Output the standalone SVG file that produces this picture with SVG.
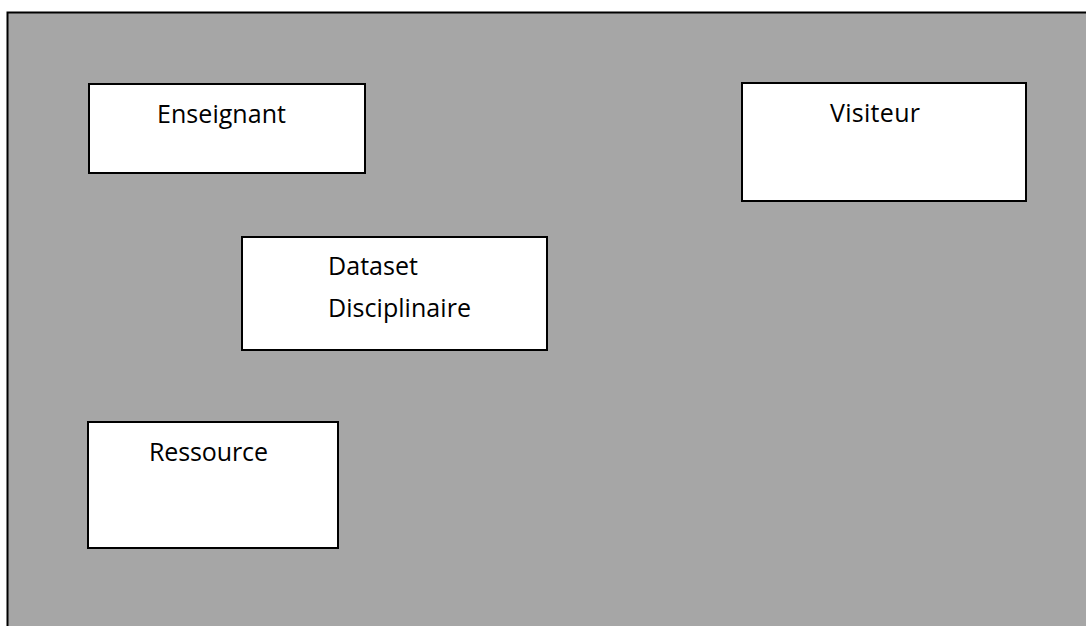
<svg xmlns="http://www.w3.org/2000/svg" width="1086" height="626" viewBox="0 0 1086 626">
<style>
.box{fill:#fff;stroke:#000;stroke-width:2}
.lbl{font-family:"Open Sans","Liberation Sans",sans-serif;font-size:25px;fill:#000}
</style>
<rect x="0" y="0" width="1086" height="626" fill="#fff"/>
<rect id="background" x="7.5" y="12.5" width="1090" height="630" fill="#a6a6a6" stroke="#000" stroke-width="2"/>
<g id="enseignant"><rect class="box" x="89" y="84" width="276" height="89"/><text class="lbl" x="157" y="123" textLength="129">Enseignant</text></g>
<g id="visiteur"><rect class="box" x="742" y="83" width="284" height="118"/><text class="lbl" x="830" y="122" textLength="90">Visiteur</text></g>
<g id="dataset"><rect class="box" x="242" y="237" width="305" height="113"/><text class="lbl" x="328" y="275" textLength="90">Dataset</text><text class="lbl" x="328" y="317" textLength="143">Disciplinaire</text></g>
<g id="ressource"><rect class="box" x="88" y="422" width="250" height="126"/><text class="lbl" x="149" y="461" textLength="119">Ressource</text></g>
<g id="connectors"/>
</svg>
